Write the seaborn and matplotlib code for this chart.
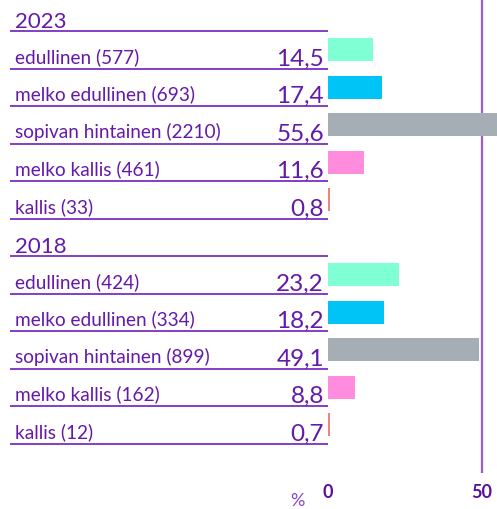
import pandas as pd
import seaborn as sns
import matplotlib.pyplot as plt
import matplotlib.transforms as mtransforms

# Data
years = ['2023', '2018']
categories = ['edullinen', 'melko edullinen', 'sopivan hintainen', 'melko kallis', 'kallis']
counts_2023 = [577, 693, 2210, 461, 33]
counts_2018 = [424, 334, 899, 162, 12]
values_2023 = [14.5, 17.4, 55.6, 11.6, 0.8]
values_2018 = [23.2, 18.2, 49.1, 8.8, 0.7]
cat_colors = ['#80ffd4', '#00c4f5', '#a4aeb4', '#ff8cdc', '#f4817f']

text_col = '#6419ab'
line_col = '#7b2fc2'

rows = []
order = []
for year, counts, values in [(years[0], counts_2023, values_2023), (years[1], counts_2018, values_2018)]:
    order.append('h' + year)
    for cat, n, v in zip(categories, counts, values):
        key = f'{year} {cat}'
        order.append(key)
        rows.append({'key': key, 'year': year, 'cat': cat,
                     'label': f'{cat} ({n})', 'value': v})
df = pd.DataFrame(rows)

sns.set_theme(style='white')
plt.rcParams['font.family'] = ['Lato', 'DejaVu Sans']

fig = plt.figure(figsize=(4.97, 5.09), dpi=100)
ax = fig.add_axes([328 / 497, 36 / 509, 1 - 328 / 497, 473 / 509])

sns.barplot(data=df, x='value', y='key', order=order, hue='cat',
            palette=dict(zip(categories, cat_colors)), legend=False,
            width=0.62, saturation=1, orient='h', linewidth=0,
            edgecolor='none', ax=ax)

# pixel rows: row i center at 12.25 + 37.5*i (from top)
px = 37.5
ax.set_ylim((473 - 12.25) / px, -12.25 / px)
ax.set_xlim(0, (497 - 328) / 3.08)
ax.axvline(50, color='#9b5ad8', lw=1.6, zorder=0)

for s in ax.spines.values():
    s.set_visible(False)
ax.set_yticks([])
ax.set_ylabel('')
ax.set_xlabel('')
ax.set_xticks([0, 50])
ax.set_xticklabels(['0', '50'], fontsize=13, fontweight='bold', color='#5a0fa0')
ax.tick_params(axis='x', length=0, pad=8)

trans = mtransforms.blended_transform_factory(fig.transFigure, ax.transData)
x0 = 10 / 497
x1 = 328 / 497
xt = 15 / 497
xv = 324 / 497
for i, key in enumerate(order):
    bottom = i + 0.5
    ax.plot([x0, x1], [bottom, bottom], transform=trans, color=line_col,
            lw=1.3, clip_on=False, solid_capstyle='butt')
    if key.startswith('h'):
        ax.text(xt, bottom - 3 / px, key[1:], transform=trans, fontsize=16,
                color=text_col, va='baseline', ha='left')
    else:
        r = df[df['key'] == key].iloc[0]
        ax.text(xt, bottom - 5.5 / px, r['label'], transform=trans, fontsize=13.7,
                color=text_col, va='baseline', ha='left')
        ax.text(xv, bottom - 3 / px, f"{r['value']:.1f}".replace('.', ','),
                transform=trans, fontsize=17.5, color=text_col,
                va='baseline', ha='right')

fig.text(297 / 497, 0 / 509, '%', fontsize=13, color='#8a45cc',
         ha='center', va='bottom')

fig.savefig('out.png', dpi=100)
